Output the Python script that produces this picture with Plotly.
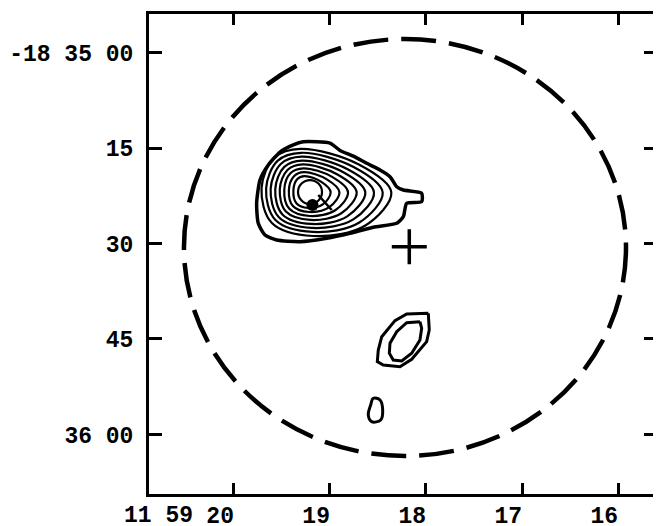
import plotly.graph_objects as go

# ---------------- axis ticks ----------------
ra_tick_vals = [20, 19, 18, 17, 16]                 # RA seconds (11h59m..s)
ra_tick_labels = ["20", "19", "18", "17", "16"]
ra_prefix_label = "11 59"                           # hours/minutes of first RA label
dec_tick_vals = [0, 15, 30, 45, 60]                 # arcsec south of -18 35 00
dec_tick_labels = ["-18 35 00", "15", "30", "45", "36 00"]

# ---------------- primary beam circle & pointing centre ----------------
beam_center_ra = 18.219
beam_center_dec = 30.63
beam_radius_ra = 2.302      # seconds of RA
beam_radius_dec = 32.75     # arcsec
pointing_ra = [18.174]
pointing_dec = [30.50]

# ---------------- main source contours ----------------
main_outer_ra = [19.278, 19.000, 18.896, 18.757, 18.618, 18.479, 18.375, 18.305, 18.236,
                 18.045, 18.045, 18.201, 18.236, 18.305, 18.549, 18.792, 19.034, 19.313,
                 19.555, 19.677, 19.747, 19.764, 19.729, 19.643, 19.521, 19.382]
main_outer_dec = [14.03, 14.23, 15.38, 16.27, 17.40, 18.45, 19.51, 21.08, 21.60,
                  22.11, 23.43, 23.68, 25.79, 26.83, 27.45, 28.40, 29.18, 29.72,
                  29.45, 28.66, 26.83, 23.68, 20.02, 17.67, 15.63, 14.49]

inner_contours_ra = [
    [19.307, 18.699, 18.361, 18.631, 19.172, 19.605, 19.713, 19.578],
    [19.301, 18.754, 18.451, 18.694, 19.179, 19.568, 19.665, 19.544],
    [19.295, 18.811, 18.542, 18.757, 19.188, 19.532, 19.618, 19.510],
    [19.289, 18.866, 18.632, 18.820, 19.195, 19.495, 19.570, 19.476],
    [19.283, 18.922, 18.722, 18.882, 19.203, 19.459, 19.523, 19.443],
    [19.277, 18.978, 18.812, 18.945, 19.210, 19.423, 19.476, 19.410],
    [19.270, 19.033, 18.902, 19.007, 19.218, 19.386, 19.428, 19.375],
    [19.265, 19.090, 18.993, 19.071, 19.226, 19.350, 19.381, 19.342],
    [19.208, 19.120, 19.083, 19.120, 19.208, 19.296, 19.333, 19.296],
]
inner_contours_dec = [
    [15.14, 17.60, 21.98, 27.18, 28.82, 26.77, 21.30, 16.51],
    [15.75, 17.99, 21.97, 26.70, 28.19, 26.32, 21.35, 16.99],
    [16.36, 18.38, 21.96, 26.22, 27.56, 25.88, 21.40, 17.48],
    [16.97, 18.76, 21.95, 25.73, 26.93, 25.44, 21.45, 17.97],
    [17.58, 19.15, 21.94, 25.25, 26.30, 24.99, 21.50, 18.45],
    [18.19, 19.54, 21.94, 24.78, 25.68, 24.56, 21.56, 18.94],
    [18.80, 19.93, 21.93, 24.30, 25.05, 24.11, 21.61, 19.43],
    [19.41, 20.31, 21.92, 23.82, 24.42, 23.67, 21.66, 19.91],
    [20.03, 20.58, 21.91, 23.24, 23.80, 23.24, 21.91, 20.58],
]

# optical position marker near the peak
optical_ra = [19.182]
optical_dec = [23.95]
optical_bar_ra = [19.122, 18.982]
optical_bar_dec = [22.38, 24.74]

# ---------------- southern weak sources ----------------
south_outer_ra = [17.976, 18.201, 18.323, 18.461, 18.497, 18.507, 18.445, 18.271, 18.149, 17.993, 17.966]
south_outer_dec = [40.96, 41.07, 42.12, 44.64, 46.73, 48.56, 49.08, 49.35, 48.19, 45.42, 43.58]
south_inner_ra = [18.063, 18.201, 18.305, 18.375, 18.382, 18.341, 18.253, 18.149, 18.063, 18.045]
south_inner_dec = [42.28, 42.44, 43.85, 45.67, 47.24, 48.30, 48.45, 47.24, 45.16, 43.32]
small_ra = [18.549, 18.479, 18.451, 18.472, 18.566, 18.601, 18.576]
small_dec = [54.31, 54.58, 56.15, 57.72, 57.99, 56.93, 55.36]


def closed(v):
    return list(v) + [v[0]]


fig = go.Figure()

fig.add_trace(go.Scatter(x=closed(main_outer_ra), y=closed(main_outer_dec), mode="lines",
                         line=dict(color="black", width=3.5, shape="spline", smoothing=0.6),
                         hoverinfo="skip"))
for cra, cdec in zip(inner_contours_ra, inner_contours_dec):
    fig.add_trace(go.Scatter(x=closed(cra), y=closed(cdec), mode="lines",
                             line=dict(color="black", width=2.2, shape="spline", smoothing=1.0),
                             hoverinfo="skip"))

fig.add_trace(go.Scatter(x=optical_bar_ra, y=optical_bar_dec, mode="lines",
                         line=dict(color="black", width=2.5), hoverinfo="skip"))
fig.add_trace(go.Scatter(x=optical_ra, y=optical_dec, mode="markers",
                         marker=dict(color="black", size=12, symbol="circle"), hoverinfo="skip"))

for ra, dec in [(south_outer_ra, south_outer_dec), (south_inner_ra, south_inner_dec)]:
    fig.add_trace(go.Scatter(x=closed(ra), y=closed(dec), mode="lines",
                             line=dict(color="black", width=3), hoverinfo="skip"))
fig.add_trace(go.Scatter(x=closed(small_ra), y=closed(small_dec), mode="lines",
                         line=dict(color="black", width=3, shape="spline"), hoverinfo="skip"))

fig.add_trace(go.Scatter(x=pointing_ra, y=pointing_dec, mode="markers",
                         marker=dict(symbol="cross-thin", size=25,
                                     line=dict(color="black", width=3.5)),
                         hoverinfo="skip"))

fig.add_shape(type="circle", xref="x", yref="y",
              x0=beam_center_ra - beam_radius_ra, x1=beam_center_ra + beam_radius_ra,
              y0=beam_center_dec - beam_radius_dec, y1=beam_center_dec + beam_radius_dec,
              line=dict(color="black", width=4.5, dash="35px,13px"))

NB = "\u00a0"
FS = 23
x_ticktext = [t + NB * 2 for t in ra_tick_labels]   # labels sit slightly left of ticks

tickfont = dict(family="Liberation Mono", size=FS, color="black", weight="bold")

# hours/minutes prefix to the left of the first RA label
fig.add_annotation(x=ra_tick_vals[0], xref="x", y=0, yref="paper",
                   text=ra_prefix_label, showarrow=False, font=tickfont,
                   xanchor="right", yanchor="middle", xshift=-39, yshift=-22)

# the page body adds an 8px offset, so the figure is 8px smaller and shifted margins
fig.update_layout(
    width=653, height=518,
    margin=dict(l=141, r=4, t=6, b=32, autoexpand=False),
    paper_bgcolor="white", plot_bgcolor="white",
    showlegend=False,
    xaxis=dict(range=[20.885, 15.594], tickvals=ra_tick_vals, ticktext=x_ticktext,
               ticks="inside", ticklen=11, tickwidth=3, tickcolor="black",
               showline=True, linewidth=3, linecolor="black", mirror="ticks",
               showgrid=False, zeroline=False, tickangle=0, tickfont=tickfont,
               ticklabelstandoff=-2, automargin=False),
    yaxis=dict(range=[69.35, -6.05], tickvals=dec_tick_vals, ticktext=dec_tick_labels,
               ticks="inside", ticklen=13, tickwidth=3, tickcolor="black",
               showline=True, linewidth=3, linecolor="black", mirror="ticks",
               showgrid=False, zeroline=False, tickfont=tickfont,
               ticklabelstandoff=8, automargin=False),
)

fig.write_html("out.html")
